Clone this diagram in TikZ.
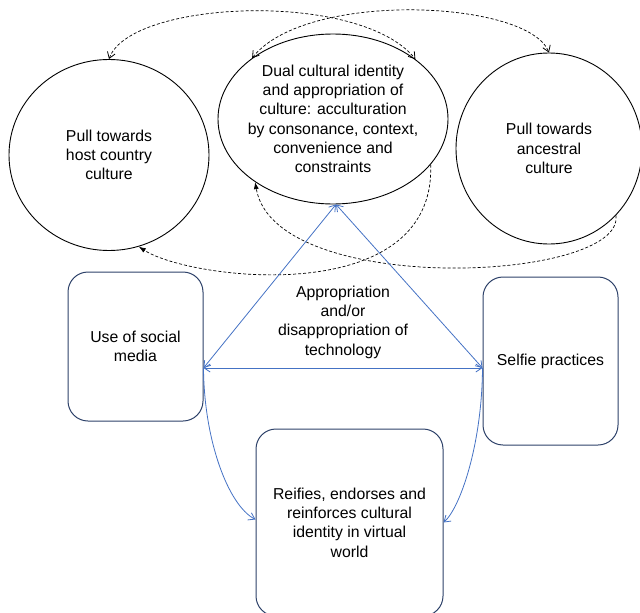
\documentclass[tikz,border=0pt]{standalone}
\usepackage{fontspec}
\setmainfont{Liberation Sans}
\usetikzlibrary{shapes.geometric,arrows.meta}
\definecolor{bl}{RGB}{68,114,196}
\definecolor{bx}{RGB}{45,65,105}
\begin{document}
\begin{tikzpicture}[x=1pt,y=-1pt,
  circ/.style={draw,ellipse,line width=0.9pt,inner sep=0pt},
  txt/.style={align=center,font=\fontsize{15.8}{19.3}\selectfont},
  box/.style={draw=bx,rounded corners=20pt,line width=1pt,inner sep=0pt},
  dsh/.style={line width=0.7pt,dash pattern=on 3pt off 2pt},
  vtip/.tip={Straight Barb[length=6pt,width=8pt,line width=0.8pt]},
  ftip/.tip={Latex[length=7pt,width=5pt]},
  bline/.style={draw=bl,line width=0.8pt}]
\useasboundingbox (0,0) rectangle (640,613);
% circles
\node[circ,minimum width=200pt,minimum height=191pt] (host) at (109,155) {};
\node[txt] (hostt) at (host.center) {Pull towards\\host country\\culture};
\node[circ,minimum width=230pt,minimum height=170pt] (mid) at (333,119) {};
\node[txt] (midt) at (mid.center) {Dual cultural identity\\and appropriation of\\culture: acculturation\\by consonance, context,\\convenience and\\constraints};
\node[circ,minimum width=186pt,minimum height=191pt] (anc) at (549,148.5) {};
\node[txt] (anct) at (anc.center) {Pull towards\\ancestral\\culture};
% boxes
\node[box,txt,minimum width=135pt,minimum height=149pt] (social) at (135.5,346.5) {Use of social\\media};
\node[box,txt,minimum width=135pt,minimum height=168pt] (selfie) at (550.5,361) {Selfie practices};
\node[box,txt,minimum width=187pt,minimum height=187pt] (reif) at (349.5,522.5) {Reifies, endorses and\\reinforces cultural\\identity in virtual\\world};
\node[txt] (appr) at (343,322) {Appropriation\\and/or\\disappropriation of\\technology};
% dashed arcs
\draw[dsh,vtip-vtip] (host.north) .. controls (130,0) and (360,-10) .. (mid.36.5);
\draw[dsh,vtip-vtip] (mid.143.5) .. controls (306,-10) and (528,0) .. (anc.north);
\draw[dsh,-ftip] (anc.-45) .. controls (625,282) and (275,298) .. (mid.-141);
\draw[dsh,-ftip] (mid.-25) .. controls (436,310) and (190,280) .. (host.-72);
% blue connectors
\coordinate (sl) at ([yshift=-21.5pt]social.east);
\coordinate (sr) at ([yshift=-7pt]selfie.west);
\coordinate (ap) at (mid.-88);
\draw[bline,vtip-vtip] (ap) -- (sl);
\draw[bline,vtip-vtip] (ap) -- (sr);
\draw[bline,vtip-vtip] (sl) -- (sr);
\draw[bline,-vtip] (sl) .. controls (204,440) and (228,505) .. ([yshift=3pt]reif.west);
\draw[bline,-vtip] (sr) .. controls (482,445) and (460,508) .. (reif.east);
\end{tikzpicture}
\end{document}
